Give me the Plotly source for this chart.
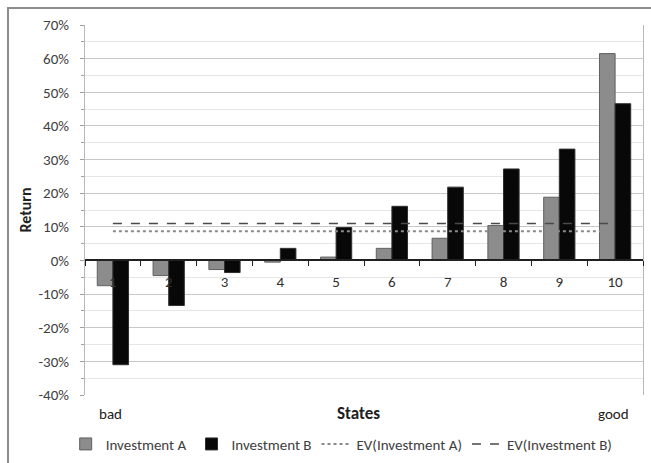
import plotly.graph_objects as go

states = ["1", "2", "3", "4", "5", "6", "7", "8", "9", "10"]
inv_a = [-0.075, -0.045, -0.027, -0.005, 0.010, 0.036, 0.066, 0.104, 0.188, 0.615]
inv_b = [-0.310, -0.134, -0.036, 0.036, 0.098, 0.161, 0.218, 0.272, 0.331, 0.466]
ev_a = sum(inv_a) / len(inv_a)
ev_b = sum(inv_b) / len(inv_b)
y_ticks = [-0.4, -0.3, -0.2, -0.1, 0.0, 0.1, 0.2, 0.3, 0.4, 0.5, 0.6, 0.7]
y_tick_labels = ["-40%", "-30%", "-20%", "-10%", "0%", "10%", "20%", "30%",
                 "40%", "50%", "60%", "70%"]

FONT = "Carlito, Open Sans, sans-serif"

fig = go.Figure()
fig.add_trace(go.Bar(x=states, y=inv_a, name="Investment A",
                     marker=dict(color="#8c8c8c", line=dict(color="#606060", width=1))))
fig.add_trace(go.Bar(x=states, y=inv_b, name="Investment B",
                     marker=dict(color="#080808", line=dict(color="#303030", width=1))))
fig.add_trace(go.Scatter(x=states, y=[ev_a] * len(states), mode="lines",
                         name="EV(Investment A)",
                         line=dict(color="#8a8a8a", width=2, dash="dot")))
fig.add_trace(go.Scatter(x=states, y=[ev_b] * len(states), mode="lines",
                         name="EV(Investment B)",
                         line=dict(color="#4a4a4a", width=1.5, dash="dash")))

fig.update_layout(
    width=651, height=463,
    margin=dict(l=85, r=8, t=25, b=68, autoexpand=False),
    paper_bgcolor="white", plot_bgcolor="white",
    font=dict(family=FONT, size=14, color="#404040"),
    barmode="group", bargap=0.44, bargroupgap=0.0,
    showlegend=True,
    legend=dict(orientation="h", x=0.46, xanchor="center",
                yref="container", y=0.005, yanchor="bottom",
                font=dict(size=15, color="#404040"), itemwidth=30,
                tracegroupgap=0),
)
fig.update_yaxes(
    range=[-0.4, 0.7], tickvals=y_ticks, ticktext=y_tick_labels,
    showgrid=True, gridcolor="#c8c8c8", gridwidth=1,
    minor=dict(dtick=0.05, showgrid=True, gridcolor="#e6e6e6", ticks="outside",
               ticklen=3, tickcolor="#a0a0a0"),
    ticks="outside", ticklen=4, tickcolor="#a0a0a0",
    showline=True, linecolor="#b8b8b8", linewidth=1, mirror=True,
    zeroline=False, ticklabelstandoff=8, automargin=False,
    title=dict(text="<b>Return</b>", standoff=2, font=dict(size=16, color="#202020")),
    tickfont=dict(size=15, color="#404040"),
)
fig.update_xaxes(
    anchor="free", position=(0 - (-0.4)) / 1.1, automargin=False,
    showline=True, linecolor="#202020", linewidth=1.5,
    ticks="outside", tickson="boundaries", ticklen=5, tickcolor="#202020",
    showgrid=False, tickfont=dict(size=15, color="#303030"),
    ticklabelstandoff=8,
)
# outer chart border
fig.add_shape(type="rect", xref="paper", yref="paper",
              x0=-0.138, x1=1.02, y0=-0.25, y1=1.046,
              line=dict(color="#8c8c8c", width=2), fillcolor="rgba(0,0,0,0)", layer="below")
fig.add_annotation(text="bad", xref="paper", yref="paper", x=0.045, y=-0.05,
                   showarrow=False, xanchor="center", yanchor="middle",
                   font=dict(size=15, color="#202020"))
fig.add_annotation(text="<b>States</b>", xref="paper", yref="paper", x=0.49, y=-0.05,
                   showarrow=False, xanchor="center", yanchor="middle",
                   font=dict(size=17, color="#202020"))
fig.add_annotation(text="good", xref="paper", yref="paper", x=0.947, y=-0.05,
                   showarrow=False, xanchor="center", yanchor="middle",
                   font=dict(size=15, color="#202020"))

fig.write_html("out.html")
